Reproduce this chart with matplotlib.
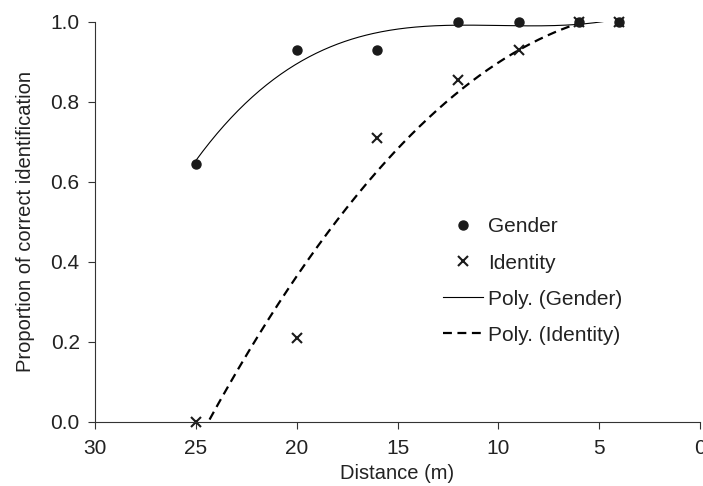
import numpy as np
import matplotlib.pyplot as plt
from matplotlib.lines import Line2D

plt.rcParams['font.family'] = ['Liberation Sans', 'DejaVu Sans']

distance = [25, 20, 16, 12, 9, 6, 4]
gender = [0.645, 0.93, 0.93, 1.0, 1.0, 1.0, 1.0]
identity = [0.0, 0.21, 0.71, 0.855, 0.93, 1.0, 1.0]

# polynomial trendlines (as in the spreadsheet)
xs = np.linspace(25, 4, 300)
g_fit = np.polyval(np.polyfit(distance, gender, 3), xs)
i_fit = np.polyval(np.polyfit(distance, identity, 2), xs)

fig = plt.figure(figsize=(7.03, 4.86), dpi=100)
ax = fig.add_axes([0.135, 0.132, 0.861, 0.823])

ax.plot(xs, g_fit, color='black', lw=0.8)
ax.plot(xs, i_fit, color='black', lw=1.6, ls=(0, (4, 2.5)))
ax.plot(distance, gender, 'o', color='#1a1a1a', ms=6.5, clip_on=False)
ax.plot(distance, identity, 'x', color='#1a1a1a', ms=7, mew=1.5, clip_on=False)

ax.set_xlim(30, 0)
ax.set_ylim(0, 1.0)
ax.set_xticks([30, 25, 20, 15, 10, 5, 0])
ax.set_yticks([0, 0.2, 0.4, 0.6, 0.8, 1.0])
ax.set_yticklabels(['0.0', '0.2', '0.4', '0.6', '0.8', '1.0'])
ax.spines['top'].set_visible(False)
ax.spines['right'].set_visible(False)
for s in ['left', 'bottom']:
    ax.spines[s].set_color('#333333')
ax.tick_params(direction='out', length=5, color='#333333', labelsize=15, labelcolor='#222222')
ax.tick_params(axis='x', pad=7)
ax.tick_params(axis='y', pad=6)
ax.set_xlabel('Distance (m)', fontsize=14.5, color='#222222', labelpad=5)
ax.set_ylabel('Proportion of correct identification', fontsize=14.5, color='#222222', labelpad=11)

handles = [
    Line2D([], [], marker='o', ls='none', color='#1a1a1a', ms=6.5),
    Line2D([], [], marker='x', ls='none', color='#1a1a1a', ms=7, mew=1.5),
    Line2D([], [], color='black', lw=0.8),
    Line2D([], [], color='black', lw=1.6, ls=(0, (4, 2.5))),
]
labels = ['Gender', 'Identity', 'Poly. (Gender)', 'Poly. (Identity)']
fig.legend(handles, labels, loc='upper left', bbox_to_anchor=(0.616, 0.574),
           frameon=False, fontsize=15, borderpad=0, handlelength=1.9, handletextpad=0.25,
           labelspacing=0.82, labelcolor='#222222')

fig.savefig('out.png', dpi=100)
